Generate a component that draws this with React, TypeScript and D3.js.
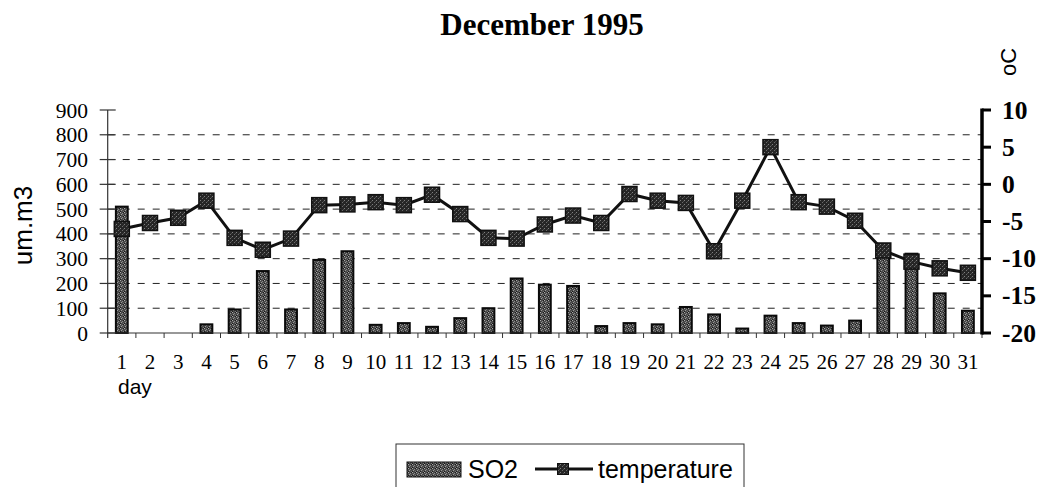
import React from "react";
import * as d3 from "d3";

const days = Array.from({ length: 31 }, (_, i) => String(i + 1));
const so2 = [510, 0, 0, 35, 95, 250, 95, 295, 330, 33, 40, 25, 60, 100, 220, 195, 190, 28, 40, 35, 105, 75, 18, 70, 40, 30, 50, 345, 320, 160, 90];
const temperature = [-6.0, -5.2, -4.5, -2.2, -7.2, -8.8, -7.3, -2.8, -2.7, -2.4, -2.8, -1.4, -4.0, -7.2, -7.3, -5.4, -4.2, -5.2, -1.3, -2.2, -2.5, -9.0, -2.2, 5.0, -2.4, -3.0, -4.9, -8.9, -10.4, -11.3, -11.9];
const leftTicks = [0, 100, 200, 300, 400, 500, 600, 700, 800, 900];
const gridTicks = [100, 200, 300, 400, 500, 600, 700, 800];
const rightTicks = [-20, -15, -10, -5, 0, 5, 10];

const W = 1038;
const H = 487;
const L = 107.7;
const R = 982;
const T = 110;
const B = 333;

export default function App() {
  const x = d3.scaleBand<string>().domain(days).range([L, R]).paddingInner(0).paddingOuter(0);
  const yL = d3.scaleLinear().domain([0, 900]).range([B, T]);
  const yR = d3.scaleLinear().domain([-20, 10]).range([B, T]);
  const bw = x.bandwidth() * 0.42;
  const cx = (d: string) => (x(d) as number) + x.bandwidth() / 2;
  const line = d3
    .line<number>()
    .x((_, i) => cx(days[i]))
    .y((v) => yR(v));
  const serif = "'Liberation Serif', 'Times New Roman', serif";
  const sans = "'Liberation Sans', Arial, sans-serif";
  const ms = 15;

  return (
    <svg width={W} height={H} style={{ position: "absolute", left: 0, top: 0, background: "#fff" }}>
      <defs>
        <pattern id="stip" width="4" height="4" patternUnits="userSpaceOnUse">
          <rect width="4" height="4" fill="#4a4a4a" />
          <rect x="0" y="0" width="1" height="1" fill="#aaa" />
          <rect x="2" y="1" width="1" height="1" fill="#8a8a8a" />
          <rect x="1" y="2" width="1" height="1" fill="#999" />
          <rect x="3" y="3" width="1" height="1" fill="#7a7a7a" />
          <rect x="3" y="0" width="1" height="1" fill="#1a1a1a" />
          <rect x="0" y="3" width="1" height="1" fill="#1a1a1a" />
        </pattern>
        <pattern id="stipDark" width="4" height="4" patternUnits="userSpaceOnUse">
          <rect width="4" height="4" fill="#262626" />
          <rect x="0" y="0" width="1" height="1" fill="#808080" />
          <rect x="2" y="2" width="1" height="1" fill="#6a6a6a" />
          <rect x="3" y="1" width="1" height="1" fill="#4a4a4a" />
        </pattern>
      </defs>

      {/* title */}
      <text x={542} y={35} textAnchor="middle" fontFamily={serif} fontWeight="bold" fontSize={31} fill="#000">
        December 1995
      </text>

      {/* gridlines */}
      {gridTicks.map((t) => (
        <line key={"g" + t} x1={L} x2={R} y1={yL(t)} y2={yL(t)} stroke="#222" strokeWidth={1} strokeDasharray="7,8" />
      ))}

      {/* bars */}
      {so2.map((v, i) =>
        v > 0 ? (
          <rect
            key={"b" + i}
            x={cx(days[i]) - bw / 2}
            y={yL(v)}
            width={bw}
            height={yL(0) - yL(v)}
            fill="url(#stip)"
            stroke="#0a0a0a"
            strokeWidth={2}
          />
        ) : null
      )}

      {/* temperature line */}
      <path d={line(temperature) || ""} fill="none" stroke="#111" strokeWidth={3} />
      {temperature.map((v, i) => (
        <rect
          key={"m" + i}
          x={cx(days[i]) - ms / 2}
          y={yR(v) - ms / 2}
          width={ms}
          height={ms}
          fill="url(#stipDark)"
          stroke="#111"
          strokeWidth={1.5}
        />
      ))}

      {/* left axis */}
      <line x1={L} x2={L} y1={T} y2={B + 5} stroke="#333" strokeWidth={1.2} />
      {leftTicks.map((t) => (
        <g key={"l" + t}>
          <line x1={L - 8} x2={L + 8} y1={yL(t)} y2={yL(t)} stroke="#333" strokeWidth={1.2} />
          <text x={88} y={yL(t) + 7.5} textAnchor="end" fontFamily={serif} fontSize={21.5} fill="#000">
            {t}
          </text>
        </g>
      ))}

      {/* x axis */}
      <line x1={L} x2={R} y1={B} y2={B} stroke="#333" strokeWidth={1.2} />
      {days.map((d) => (
        <line key={"xt" + d} x1={(x(d) as number) + x.bandwidth()} x2={(x(d) as number) + x.bandwidth()} y1={B} y2={B + 5} stroke="#333" strokeWidth={1} />
      ))}
      {days.map((d) => (
        <text key={"xl" + d} x={cx(d)} y={369} textAnchor="middle" fontFamily={serif} fontSize={21} fill="#000">
          {d}
        </text>
      ))}
      <text x={118} y={394} fontFamily={sans} fontSize={21} fill="#000">
        day
      </text>

      {/* right axis */}
      <line x1={R} x2={R} y1={T - 1.5} y2={B + 1.5} stroke="#000" strokeWidth={3.5} />
      {rightTicks.map((t) => (
        <g key={"r" + t}>
          <line x1={R} x2={R + 9} y1={yR(t)} y2={yR(t)} stroke="#000" strokeWidth={3} />
          <text x={1002} y={yR(t) + 8.5} textAnchor="start" fontFamily={serif} fontWeight="bold" fontSize={25.5} fill="#000">
            {t}
          </text>
        </g>
      ))}

      {/* axis titles */}
      <text transform={`translate(32,${(T + B) / 2 + 4}) rotate(-90)`} textAnchor="middle" fontFamily={sans} fontSize={26} fill="#000">
        um.m3
      </text>
      <text transform={`translate(1016,76) rotate(-90)`} textAnchor="start" fontFamily={sans} fontSize={22} fill="#000">
        oC
      </text>

      {/* legend */}
      <rect x={396} y={444} width={348} height={60} fill="#fff" stroke="#333" strokeWidth={1} />
      <rect x={407} y={462} width={54} height={15} fill="url(#stip)" stroke="#111" strokeWidth={1} />
      <text x={468} y={478} fontFamily={sans} fontSize={25} fill="#000">
        SO2
      </text>
      <line x1={535} x2={593} y1={469} y2={469} stroke="#111" strokeWidth={3} />
      <rect x={557.5} y={463.5} width={11} height={11} fill="url(#stipDark)" stroke="#111" strokeWidth={1} />
      <text x={598} y={478} fontFamily={sans} fontSize={25} fill="#000">
        temperature
      </text>
    </svg>
  );
}
